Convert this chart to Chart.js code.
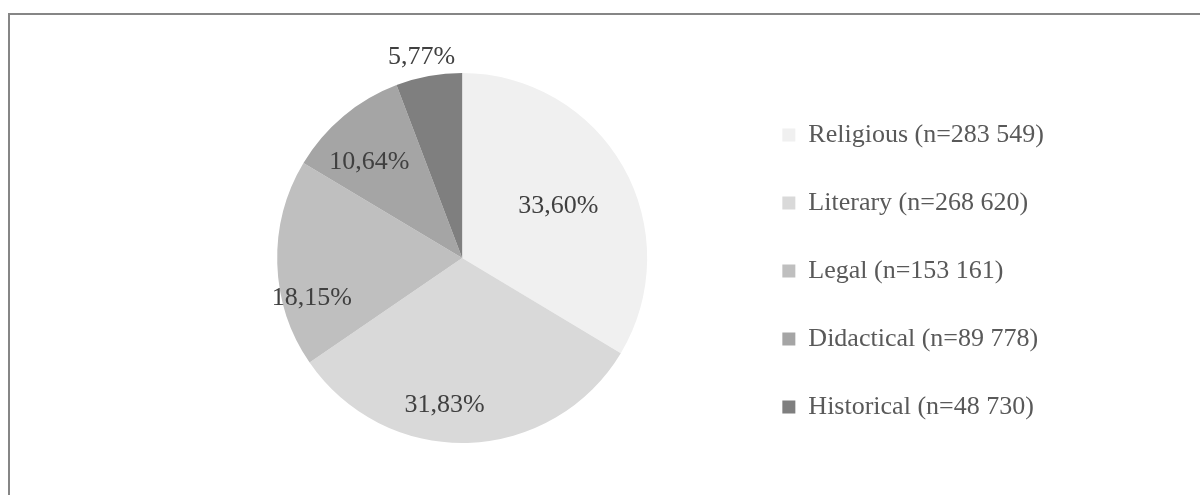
<!DOCTYPE html>
<html>
<head>
<meta charset="utf-8">
<script src="https://cdn.jsdelivr.net/npm/chart.js@4"></script>
<style>
  body { margin: 0; background: #fff; overflow: hidden; }
  #frame { position: absolute; left: 8px; top: 13px; width: 1400px; height: 700px; border: 2px solid #868686; box-sizing: border-box; }
  #wrap { position: absolute; left: 0; top: 0; width: 1200px; height: 495px; }
</style>
</head>
<body>
<div id="frame"></div>
<div id="wrap"><canvas id="chart"></canvas></div>
<script>
// genre counts
const categories = ['Religious', 'Literary', 'Legal', 'Didactical', 'Historical'];
const counts = [283549, 268620, 153161, 89778, 48730];
const percentLabels = ['33,60%', '31,83%', '18,15%', '10,64%', '5,77%'];
const colors = ['#f0f0f0', '#d9d9d9', '#bfbfbf', '#a5a5a5', '#7f7f7f'];

const fmt = n => String(n).replace(/\B(?=(\d{3})+(?!\d))/g, ' ');
const legendLabels = categories.map((c, i) => c + ' (n=' + fmt(counts[i]) + ')');

// [fraction along slice, fraction of radius] - mimics excel best fit spots
const labelSpots = [[0.51, 0.59], [0.575, 0.8], [0.3, 0.84], [0.39, 0.72], [0.45, 1.11]];

const sliceLabels = {
  id: 'sliceLabels',
  afterDatasetsDraw(chart) {
    const ctx = chart.ctx;
    const meta = chart.getDatasetMeta(0);
    ctx.save();
    ctx.font = '26px "Liberation Serif"';
    ctx.fillStyle = '#404040';
    ctx.textAlign = 'center';
    ctx.textBaseline = 'middle';
    meta.data.forEach((arc, i) => {
      const p = arc.getProps(['x', 'y', 'startAngle', 'endAngle', 'outerRadius'], true);
      const a = p.startAngle + (p.endAngle - p.startAngle) * labelSpots[i][0];
      const r = p.outerRadius * labelSpots[i][1];
      ctx.fillText(percentLabels[i], p.x + Math.cos(a) * r, p.y + Math.sin(a) * r);
    });
    ctx.restore();
  }
};

new Chart(document.getElementById('chart'), {
  type: 'pie',
  data: {
    labels: legendLabels,
    datasets: [{
      data: counts,
      backgroundColor: colors,
      borderWidth: 0,
      radius: 185
    }]
  },
  options: {
    responsive: true,
    maintainAspectRatio: false,
    animation: false,
    layout: { padding: { top: 21, bottom: 0, left: 184, right: 146 } },
    plugins: {
      tooltip: { enabled: false },
      legend: {
        position: 'right',
        title: { display: true, text: ' ', padding: 7, font: { size: 10 } },
        labels: {
          boxWidth: 13,
          boxHeight: 13,
          padding: 42,
          color: '#595959',
          font: { family: '"Liberation Serif"', size: 26 }
        }
      }
    }
  },
  plugins: [sliceLabels]
});
</script>
</body>
</html>
